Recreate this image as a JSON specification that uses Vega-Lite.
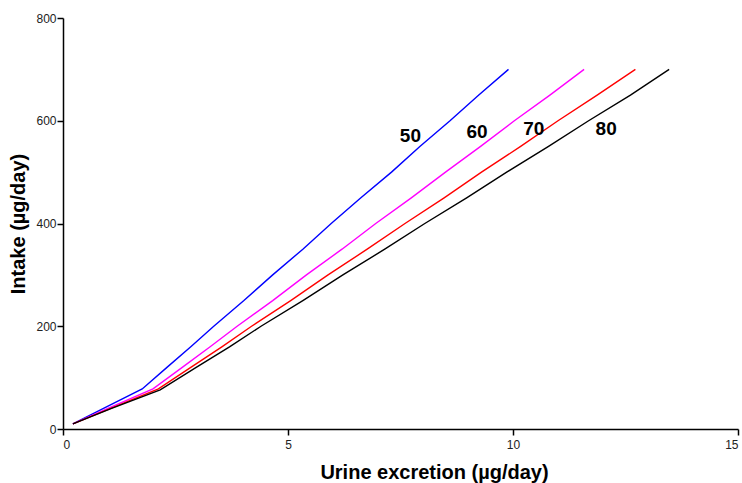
{
  "$schema": "https://vega.github.io/schema/vega-lite/v6.json",
  "width": 675,
  "height": 411,
  "autosize": {"type": "none"},
  "padding": {"left": 63, "top": 18, "right": 4, "bottom": 54},
  "background": "white",
  "config": {
    "view": {"stroke": null},
    "font": "Liberation Sans",
    "axis": {
      "grid": false,
      "domainColor": "black",
      "domainWidth": 1.5,
      "tickColor": "black",
      "tickWidth": 1.5,
      "tickSize": 6,
      "labelFont": "Liberation Sans",
      "labelFontSize": 12,
      "labelColor": "#222222",
      "titleFont": "Liberation Sans",
      "titleFontWeight": "bold",
      "titleFontSize": 20,
      "titleColor": "black"
    }
  },
  "datasets": {
    "curves": [
      {"series": "50", "excretion": 0.22, "intake": 10},
      {"series": "50", "excretion": 0.9, "intake": 40},
      {"series": "50", "excretion": 1.76, "intake": 78},
      {"series": "50", "excretion": 2.31, "intake": 120},
      {"series": "50", "excretion": 2.84, "intake": 160},
      {"series": "50", "excretion": 3.35, "intake": 200},
      {"series": "50", "excretion": 4.02, "intake": 250},
      {"series": "50", "excretion": 4.66, "intake": 300},
      {"series": "50", "excretion": 5.33, "intake": 350},
      {"series": "50", "excretion": 5.96, "intake": 400},
      {"series": "50", "excretion": 6.62, "intake": 450},
      {"series": "50", "excretion": 7.3, "intake": 500},
      {"series": "50", "excretion": 7.93, "intake": 550},
      {"series": "50", "excretion": 8.6, "intake": 600},
      {"series": "50", "excretion": 9.24, "intake": 650},
      {"series": "50", "excretion": 9.9, "intake": 700},
      {"series": "60", "excretion": 0.22, "intake": 10},
      {"series": "60", "excretion": 1.0, "intake": 40},
      {"series": "60", "excretion": 2.0, "intake": 78},
      {"series": "60", "excretion": 2.65, "intake": 120},
      {"series": "60", "excretion": 3.27, "intake": 160},
      {"series": "60", "excretion": 3.87, "intake": 200},
      {"series": "60", "excretion": 4.66, "intake": 250},
      {"series": "60", "excretion": 5.41, "intake": 300},
      {"series": "60", "excretion": 6.2, "intake": 350},
      {"series": "60", "excretion": 6.95, "intake": 400},
      {"series": "60", "excretion": 7.74, "intake": 450},
      {"series": "60", "excretion": 8.5, "intake": 500},
      {"series": "60", "excretion": 9.28, "intake": 550},
      {"series": "60", "excretion": 10.03, "intake": 600},
      {"series": "60", "excretion": 10.82, "intake": 650},
      {"series": "60", "excretion": 11.58, "intake": 700},
      {"series": "70", "excretion": 0.22, "intake": 10},
      {"series": "70", "excretion": 1.06, "intake": 40},
      {"series": "70", "excretion": 2.12, "intake": 78},
      {"series": "70", "excretion": 2.84, "intake": 120},
      {"series": "70", "excretion": 3.53, "intake": 160},
      {"series": "70", "excretion": 4.19, "intake": 200},
      {"series": "70", "excretion": 5.06, "intake": 250},
      {"series": "70", "excretion": 5.89, "intake": 300},
      {"series": "70", "excretion": 6.76, "intake": 350},
      {"series": "70", "excretion": 7.6, "intake": 400},
      {"series": "70", "excretion": 8.47, "intake": 450},
      {"series": "70", "excretion": 9.3, "intake": 500},
      {"series": "70", "excretion": 10.17, "intake": 550},
      {"series": "70", "excretion": 11.0, "intake": 600},
      {"series": "70", "excretion": 11.87, "intake": 650},
      {"series": "70", "excretion": 12.72, "intake": 700},
      {"series": "80", "excretion": 0.22, "intake": 10},
      {"series": "80", "excretion": 1.08, "intake": 40},
      {"series": "80", "excretion": 2.16, "intake": 76},
      {"series": "80", "excretion": 2.96, "intake": 120},
      {"series": "80", "excretion": 3.7, "intake": 160},
      {"series": "80", "excretion": 4.4, "intake": 200},
      {"series": "80", "excretion": 5.33, "intake": 250},
      {"series": "80", "excretion": 6.22, "intake": 300},
      {"series": "80", "excretion": 7.15, "intake": 350},
      {"series": "80", "excretion": 8.04, "intake": 400},
      {"series": "80", "excretion": 8.97, "intake": 450},
      {"series": "80", "excretion": 9.86, "intake": 500},
      {"series": "80", "excretion": 10.79, "intake": 550},
      {"series": "80", "excretion": 11.68, "intake": 600},
      {"series": "80", "excretion": 12.61, "intake": 650},
      {"series": "80", "excretion": 13.47, "intake": 700}
    ],
    "labels": [
      {"series": "50", "excretion": 7.72, "intake": 570},
      {"series": "60", "excretion": 9.2, "intake": 578},
      {"series": "70", "excretion": 10.46, "intake": 584},
      {"series": "80", "excretion": 12.07, "intake": 584}
    ]
  },
  "layer": [
    {
      "data": {"name": "curves"},
      "mark": {"type": "line", "strokeWidth": 1.4},
      "encoding": {
        "x": {
          "field": "excretion",
          "type": "quantitative",
          "scale": {"domain": [0, 15], "nice": false},
          "axis": {
            "values": [0, 5, 10, 15],
            "title": "Urine excretion (µg/day)",
            "titleX": 371,
            "titleY": 49,
            "titleBaseline": "alphabetic",
            "labelPadding": 4
          }
        },
        "y": {
          "field": "intake",
          "type": "quantitative",
          "scale": {"domain": [0, 800], "nice": false},
          "axis": {
            "values": [0, 200, 400, 600, 800],
            "title": "Intake (µg/day)",
            "titlePadding": 7,
            "labelPadding": 1
          }
        },
        "color": {
          "field": "series",
          "type": "nominal",
          "scale": {"domain": ["50", "60", "70", "80"], "range": ["#0000FF", "#FF00FF", "#FF0000", "#000000"]},
          "legend": null
        },
        "order": {"field": "intake", "type": "quantitative"}
      }
    },
    {
      "data": {"name": "labels"},
      "mark": {"type": "text", "fontSize": 19, "fontWeight": "bold", "font": "Liberation Sans", "color": "black", "align": "center", "baseline": "middle"},
      "encoding": {
        "x": {"field": "excretion", "type": "quantitative"},
        "y": {"field": "intake", "type": "quantitative"},
        "text": {"field": "series", "type": "nominal"}
      }
    }
  ]
}
